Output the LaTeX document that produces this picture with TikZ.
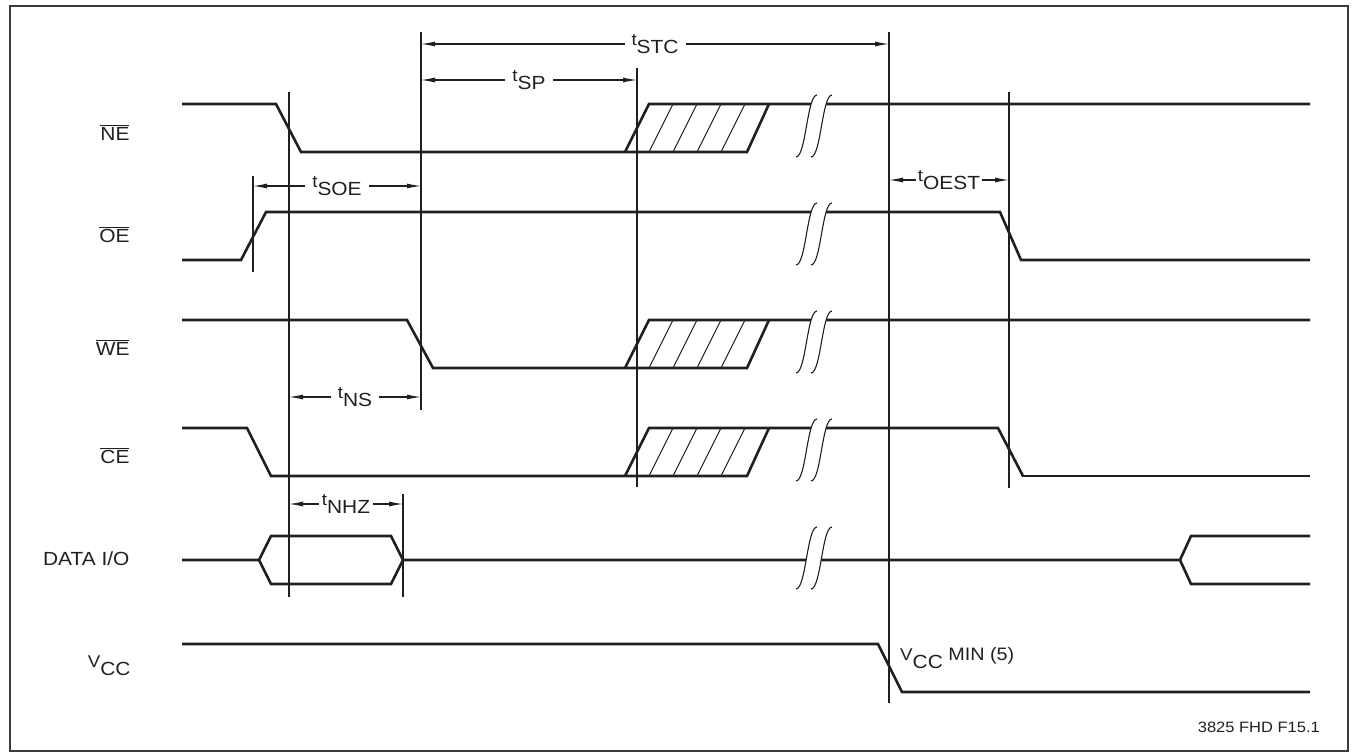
\documentclass[tikz,border=0pt]{standalone}
\usepackage{fontspec}
\setmainfont[FakeStretch=1.1]{Liberation Sans}
\usepackage{tikz}
\usetikzlibrary{arrows.meta,positioning,calc}
\definecolor{tdInk}{HTML}{231F20}
\definecolor{tdRule}{HTML}{3A3A3A}
\newcommand\tsub[2]{\raisebox{8pt}{\fontsize{17}{17}\selectfont #1}{\fontsize{19}{19}\selectfont #2}}
\newcommand\signame[1]{$\overline{\mbox{#1}}$}
\newcommand\hatchbox[2]{%
  \foreach \h in {649,673,697,721} \draw[hatch] (\h,#2) -- (\h+24,#1);}
\newcommand\brkmark[2]{%
  \fill[white] (796,#2) .. controls (806,#2) and (807,#1) .. (817,#1) -- (832,#1)
    .. controls (822,#1) and (821,#2) .. (811,#2) -- cycle;
  \draw[hatch] (796,#2) .. controls (806,#2) and (807,#1) .. (817,#1);
  \draw[hatch] (811,#2) .. controls (821,#2) and (822,#1) .. (832,#1);}

\begin{document}
\begin{tikzpicture}[
  x=1pt,y=-1pt,
  sig/.style={line width=2.6pt,color=tdInk},
  vline/.style={line width=1.1pt,color=tdInk},
  hatch/.style={line width=1.1pt,color=tdInk},
  dim/.style={line width=1.1pt,color=tdInk,{Latex[length=14pt,width=5pt]}-{Latex[length=14pt,width=5pt]}},
  tlab/.style={fill=white,inner xsep=7pt,inner ysep=0pt,text=tdInk},
  lab/.style={anchor=base east,font=\fontsize{19}{19}\selectfont,text=tdInk}
]
  \useasboundingbox (0,0) rectangle (1353,752);
  \draw[line width=1.2pt,tdRule] (10,6) rectangle (1348,751);

  \node[lab] (ne) at (133,140) {\signame{NE}};
  \node[lab] (oe) at (133,242) {\signame{OE}};
  \node[lab] (we) at (133,355) {\signame{WE}};
  \node[lab] (ce) at (133,463) {\signame{CE}};
  \node[lab] (dio) at (133,565) {DATA I/O};
  \node[lab] (vcc) at (134,675) {\tsub{V}{CC}};

  \draw[sig] (182,104) -- (276,104) -- (301,152) -- (747,152) -- (769,104);
  \draw[sig] (625,152) -- (649,104) -- (1310,104);
  \hatchbox{104}{152}
  \draw[sig] (182,260) -- (241,260) -- (266,212) -- (1000,212) -- (1021,260) -- (1310,260);
  \draw[sig] (182,320) -- (407,320) -- (433,368) -- (747,368) -- (769,320);
  \draw[sig] (625,368) -- (649,320) -- (1310,320);
  \hatchbox{320}{368}
  \draw[sig] (182,428) -- (247,428) -- (271,476) -- (747,476) -- (769,428);
  \draw[sig] (625,476) -- (649,428) -- (998,428) -- (1023,476);
  \draw[line width=1.5pt,tdInk] (1022,476) -- (1310,476);
  \hatchbox{428}{476}
  \draw[sig] (182,560) -- (259,560) -- (271,536) -- (391,536) -- (403,560) -- (1180,560) -- (1191,536) -- (1310,536);
  \draw[sig] (259,560) -- (271,584) -- (391,584) -- (403,560);
  \draw[sig] (1180,560) -- (1191,584) -- (1310,584);
  \draw[sig] (182,644) -- (878,644) -- (902,692) -- (1310,692);

  \brkmark{95}{157}
  \brkmark{203}{265}
  \brkmark{311}{373}
  \brkmark{419}{481}
  \brkmark{527}{589}

  \draw[vline] (253,176) -- (253,272);
  \draw[vline] (289,92) -- (289,597);
  \draw[vline] (421,32) -- (421,410);
  \draw[vline] (637,68) -- (637,487);
  \draw[vline] (889,32) -- (889,703);
  \draw[vline] (1009,92) -- (1009,488);
  \draw[vline] (403,494) -- (403,597);

  \coordinate (stcL) at (421,44);  \coordinate (stcR) at (889,44);
  \coordinate (spL) at (421,80);   \coordinate (spR) at (637,80);
  \coordinate (soeL) at (253,186); \coordinate (soeR) at (421,186);
  \coordinate (oestL) at (889,180); \coordinate (oestR) at (1009,180);
  \coordinate (nsL) at (289,397);  \coordinate (nsR) at (421,397);
  \coordinate (nhzL) at (289,504); \coordinate (nhzR) at (403,504);
  \draw[dim] (stcL) -- node[tlab] (tstc) {\tsub{t}{STC}} (stcR);
  \draw[dim] (spL) -- node[tlab] (tsp) {\tsub{t}{SP}} (spR);
  \draw[dim] (soeL) -- node[tlab] (tsoe) {\tsub{t}{SOE}} (soeR);
  \draw[dim] (oestL) -- node[tlab,inner xsep=2pt] (toest) {\tsub{t}{OEST}} (oestR);
  \draw[dim] (nsL) -- node[tlab] (tns) {\tsub{t}{NS}} (nsR);
  \draw[dim] (nhzL) -- node[tlab,inner xsep=3pt] (tnhz) {\tsub{t}{NHZ}} (nhzR);

  \node[anchor=base west,text=tdInk,inner sep=0pt] (vmin) at (900,668)
    {\tsub{V}{CC}\raisebox{8pt}{\fontsize{18}{18}\selectfont\ MIN (5)}};
  \node[anchor=base east,font=\fontsize{15}{15}\selectfont,text=tdInk,inner sep=0pt] (fig) at (1320,732) {3825 FHD F15.1};
\end{tikzpicture}
\end{document}
